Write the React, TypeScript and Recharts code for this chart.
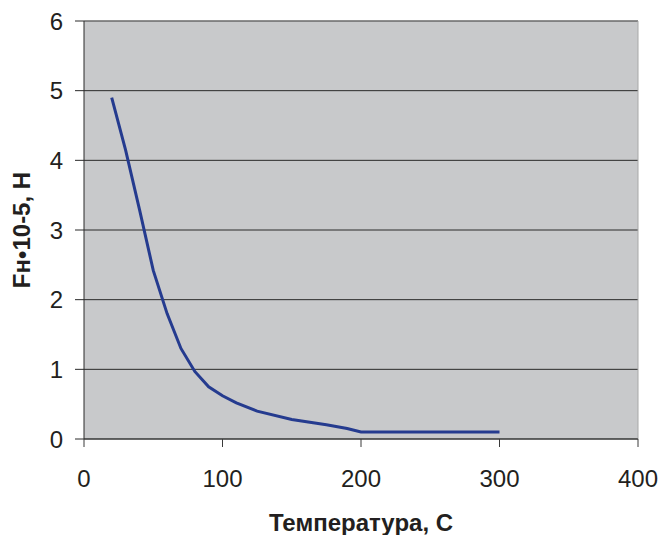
import { LineChart, Line, XAxis, YAxis, CartesianGrid, ReferenceLine } from 'recharts';

// Temperature (C) and force Fн•10-5 (Н)
const temps = [20, 30, 40, 50, 60, 70, 80, 90, 100, 110, 125, 150, 175, 190, 200, 300];
const force = [4.9, 4.15, 3.3, 2.42, 1.8, 1.3, 0.97, 0.75, 0.62, 0.52, 0.4, 0.28, 0.205, 0.15, 0.1, 0.1];

const xTicks = [0, 100, 200, 300, 400];
const yTicks = [0, 1, 2, 3, 4, 5, 6];

const data = temps.map((t, i) => ({ t, f: force[i] }));

const font = '"Liberation Sans", Arial, sans-serif';
const tickStyle = { fontSize: 24, fill: '#231F20', fontFamily: font };
const titleStyle = { fontSize: 24, fontWeight: 'bold', fill: '#231F20', fontFamily: font };

export default function App() {
    return (
        <div style={{ position: 'absolute', left: 0, top: 0, width: 662, height: 535, background: '#fff' }}>
            <LineChart width={662} height={535} data={data} margin={{ top: 21, right: 24, left: 0, bottom: 0 }}>
                <CartesianGrid vertical={false} fill="#C8C9CB" stroke="#2a2a2a" fillOpacity={1} />
                <XAxis
                    type="number"
                    dataKey="t"
                    domain={[0, 400]}
                    ticks={xTicks}
                    height={96}
                    tickSize={8}
                    tickMargin={23}
                    stroke="#3a3a3a"
                    tick={tickStyle}
                    label={{ value: 'Температура, С', position: 'insideBottom', offset: 4, style: titleStyle }}
                />
                <YAxis
                    type="number"
                    domain={[0, 6]}
                    ticks={yTicks}
                    width={84}
                    tickSize={9}
                    tickMargin={12}
                    stroke="#2a2a2a"
                    tick={tickStyle}
                    label={{ value: 'Fн•10-5, Н', angle: -90, position: 'insideLeft', offset: 21, style: { ...titleStyle, textAnchor: 'middle' } }}
                />
                <ReferenceLine y={6} stroke="#888" />
                <ReferenceLine x={400} stroke="#a8a8a8" />
                <Line
                    type="linear"
                    dataKey="f"
                    stroke="#253B8F"
                    strokeWidth={3}
                    dot={false}
                    isAnimationActive={false}
                />
            </LineChart>
        </div>
    );
}
